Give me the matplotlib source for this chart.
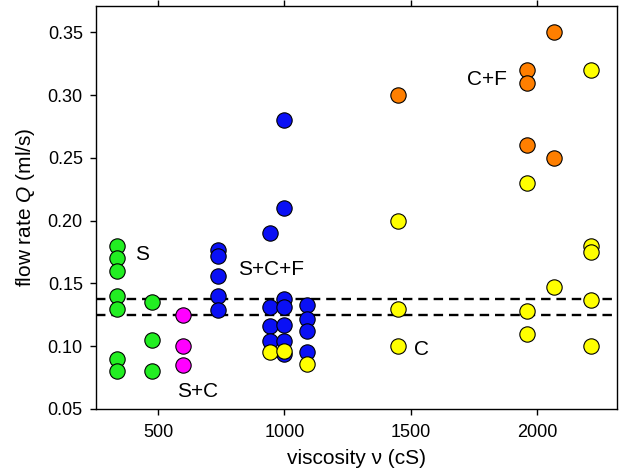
import matplotlib
matplotlib.use("Agg")
import matplotlib.pyplot as plt

plt.rcParams['font.family'] = ['Liberation Sans', 'DejaVu Sans']
plt.rcParams['mathtext.fontset'] = 'custom'
plt.rcParams['mathtext.it'] = 'Liberation Sans:italic'
plt.rcParams['mathtext.rm'] = 'Liberation Sans'

# S (green)
s_x = [336, 336, 336, 336, 336, 336, 336, 475, 475, 475]
s_q = [0.18, 0.17, 0.16, 0.14, 0.13, 0.09, 0.08, 0.135, 0.105, 0.08]
# S+C (magenta)
sc_x = [600, 600, 600]
sc_q = [0.125, 0.10, 0.085]
# S+C+F (blue)
scf_x = [738, 738, 738, 738, 738,
         943, 943, 943, 943,
         1000, 1000, 1000, 1000, 1000, 1000, 1000,
         1088, 1088, 1088, 1088]
scf_q = [0.177, 0.172, 0.156, 0.140, 0.129,
         0.190, 0.1316, 0.116, 0.104,
         0.28, 0.21, 0.1375, 0.1316, 0.117, 0.104, 0.094,
         0.133, 0.1215, 0.112, 0.095]
# C+F (orange)
cf_x = [1450, 1960, 1960, 1960, 2065, 2065]
cf_q = [0.30, 0.32, 0.31, 0.26, 0.35, 0.25]
# C (yellow)
c_x = [943, 1000, 1088,
       1450, 1450, 1450, 1960, 1960, 1960, 2065,
       2215, 2215, 2215, 2215, 2215]
c_q = [0.095, 0.096, 0.086,
       0.20, 0.13, 0.10, 0.23, 0.128, 0.11, 0.147,
       0.32, 0.18, 0.175, 0.137, 0.10]

thresholds = [0.1375, 0.125]

fig = plt.figure(figsize=(6.19, 4.76), dpi=100)
ax = fig.add_axes([0.155, 0.1408, 0.8413, 0.8466])

kw = dict(s=122, edgecolors='black', linewidths=0.8, zorder=3)
ax.scatter(s_x, s_q, c='#22ee22', **kw)
ax.scatter(sc_x, sc_q, c='#ff00ff', **kw)
ax.scatter(scf_x, scf_q, c='#0a10f5', **kw)
ax.scatter(cf_x, cf_q, c='#ff7f00', **kw)
ax.scatter(c_x, c_q, c='#ffff00', **kw)

for t in thresholds:
    ax.axhline(t, color='black', ls=(0, (4, 2.5)), lw=1.7, zorder=2)

ax.text(409, 0.1728, "S", fontsize=15, va='center')
ax.text(817, 0.161, "S+C+F", fontsize=15, va='center')
ax.text(575, 0.0638, "S+C", fontsize=15, va='center')
ax.text(1721, 0.3124, "C+F", fontsize=15, va='center')
ax.text(1513, 0.097, "C", fontsize=15, va='center')

ax.set_xlim(254, 2315)
ax.set_ylim(0.05, 0.371)
ax.set_xticks([500, 1000, 1500, 2000])
ax.set_yticks([0.05, 0.10, 0.15, 0.20, 0.25, 0.30, 0.35])
ax.yaxis.set_major_formatter(matplotlib.ticker.FormatStrFormatter('%.2f'))
ax.tick_params(direction='out', length=4.5, width=1, labelsize=13, top=True, pad=5)
ax.tick_params(axis='x', pad=6)
for sp in ax.spines.values():
    sp.set_linewidth(1)

ax.set_xlabel("viscosity ν (cS)", fontsize=15, labelpad=6)
ax.set_ylabel("flow rate $Q$ (ml/s)", fontsize=15, labelpad=8)

fig.savefig("out.png", dpi=100)
